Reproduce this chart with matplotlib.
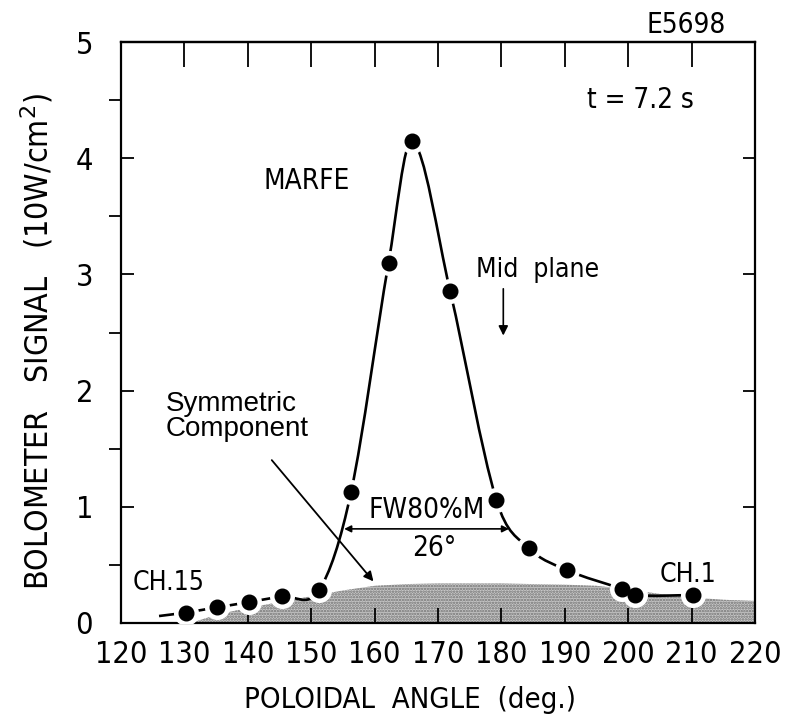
import matplotlib.pyplot as plt
from matplotlib.path import Path
from matplotlib.patches import PathPatch
from matplotlib.ticker import MultipleLocator

plt.rcParams['hatch.linewidth'] = 1.2

# bolometer channels (CH.15 ... CH.1), t = 7.2 s
angle = [130.2, 135.2, 140.2, 145.4, 151.2, 156.3, 162.2, 165.9, 171.9,
         179.2, 184.3, 190.3, 199.1, 201.1, 210.2]
signal = [0.09, 0.135, 0.18, 0.23, 0.28, 1.13, 3.10, 4.15, 2.86,
          1.06, 0.645, 0.456, 0.29, 0.24, 0.24]

# where the hand-drawn curve starts left of CH.15
lead_angle = [126.0]
lead_signal = [0.06]

# symmetric component (shaded)
sym_angle = [131, 135, 140, 145, 150, 155, 160, 165, 170, 180, 190, 195,
             200, 205, 210, 215, 220]
sym_signal = [0.0, 0.07, 0.13, 0.18, 0.23, 0.28, 0.32, 0.335, 0.34, 0.34,
              0.33, 0.32, 0.29, 0.25, 0.22, 0.20, 0.19]

# full width at 80% of maximum
fw_left = 155.2
fw_width = 26
fw_level = 0.81

xticks = list(range(120, 221, 10))
yticks = [0, 1, 2, 3, 4, 5]

narrow = dict(family='DejaVu Sans', stretch='condensed')
helv = dict(family=['Liberation Sans', 'DejaVu Sans'])


def smooth_path(xs, ys):
    # cubic Bezier through the points, tangents from neighbouring slopes
    n = len(xs)
    slopes = []
    for i in range(n):
        if i == 0:
            m = (ys[1] - ys[0]) / (xs[1] - xs[0])
        elif i == n - 1:
            m = (ys[-1] - ys[-2]) / (xs[-1] - xs[-2])
        else:
            m = (ys[i + 1] - ys[i - 1]) / (xs[i + 1] - xs[i - 1])
        slopes.append(m)
    verts = [(xs[0], ys[0])]
    codes = [Path.MOVETO]
    for i in range(n - 1):
        h = xs[i + 1] - xs[i]
        verts += [(xs[i] + h / 3, ys[i] + slopes[i] * h / 3),
                  (xs[i + 1] - h / 3, ys[i + 1] - slopes[i + 1] * h / 3),
                  (xs[i + 1], ys[i + 1])]
        codes += [Path.CURVE4] * 3
    return Path(verts, codes)


fig = plt.figure(figsize=(7.9, 7.28), dpi=100)
ax = fig.add_axes([121 / 790, 105 / 728, 634 / 790, 581 / 728])

ax.fill_between(sym_angle, 0, sym_signal, facecolor='#c8c8c8',
                edgecolor='#707070', hatch='......', linewidth=0, zorder=1)

curve = smooth_path(lead_angle + angle, lead_signal + signal)
ax.add_patch(PathPatch(curve, fill=False, lw=1.9, color='black', zorder=2))

# white halo around each dot breaks the line like the pen plot
ax.plot(angle, signal, 'o', ms=17, color='white', zorder=3)
ax.plot(angle, signal, 'o', ms=10.5, color='black', zorder=4)

ax.set_xlim(120, 220)
ax.set_ylim(0, 5)
ax.set_xticks(xticks)
ax.set_yticks(yticks)
ax.yaxis.set_minor_locator(MultipleLocator(0.5))
ax.tick_params(direction='in', top=False, right=True, width=1.3,
               labelsize=22)
ax.tick_params(axis='x', length=11, pad=12)
ax.tick_params(axis='y', which='both', length=9, width=1.3, pad=20)
for lab in ax.get_xticklabels() + ax.get_yticklabels():
    lab.set_family(narrow['family'])
    lab.set_stretch(narrow['stretch'])
for sp in ax.spines.values():
    sp.set_linewidth(1.6)

# longer ticks along the top edge
top = ax.secondary_xaxis('top')
top.set_xticks(xticks)
top.tick_params(direction='in', length=18, width=1.3, labeltop=False)
top.spines['top'].set_linewidth(1.6)

ax.set_xlabel('POLOIDAL  ANGLE  (deg.)', fontsize=21, **narrow)
ax.xaxis.set_label_coords(0.456, -0.108)
ax.set_ylabel('BOLOMETER   SIGNAL   (10W/cm$^2$)', fontsize=23, **narrow)
ax.yaxis.set_label_coords(-0.104, 0.485)

fig.text(686 / 790, 1 - 25 / 728, 'E5698', fontsize=20,
         ha='center', va='center', **narrow)
ax.text(202, 4.5, 't = 7.2 s', fontsize=20, ha='center', va='center',
        **narrow)
ax.text(149.3, 3.8, 'MARFE', fontsize=20, ha='center', va='center',
        **narrow)
ax.text(176, 3.04, 'Mid  plane', fontsize=19, ha='left', va='center',
        **narrow)
ax.annotate('', xy=(180.3, 2.45), xytext=(180.3, 2.9),
            arrowprops=dict(arrowstyle='-|>', color='black', lw=1.2,
                            mutation_scale=14))

ax.text(127, 2.0, 'Symmetric\nComponent', fontsize=20, ha='left',
        va='top', linespacing=0.95, **helv)
ax.annotate('', xy=(160.1, 0.34), xytext=(143.5, 1.42),
            arrowprops=dict(arrowstyle='-|>', color='black', lw=1.3,
                            mutation_scale=14))

ax.annotate('', xy=(fw_left, fw_level), xytext=(fw_left + fw_width, fw_level),
            arrowprops=dict(arrowstyle='<|-|>', color='black', lw=1.2,
                            mutation_scale=10, shrinkA=0, shrinkB=0))
ax.text(fw_left + fw_width / 2, fw_level + 0.04, 'FW80%M', fontsize=20,
        ha='center', va='bottom', **narrow)
ax.text(fw_left + fw_width / 2 + 1.2, fw_level - 0.04, f'{fw_width}°',
        fontsize=20, ha='center', va='top', **narrow)

ax.text(127.5, 0.34, 'CH.15', fontsize=19, ha='center', va='center',
        **narrow)
ax.text(209.4, 0.41, 'CH.1', fontsize=19, ha='center', va='center',
        **narrow)

fig.savefig('out.png', dpi=100)
